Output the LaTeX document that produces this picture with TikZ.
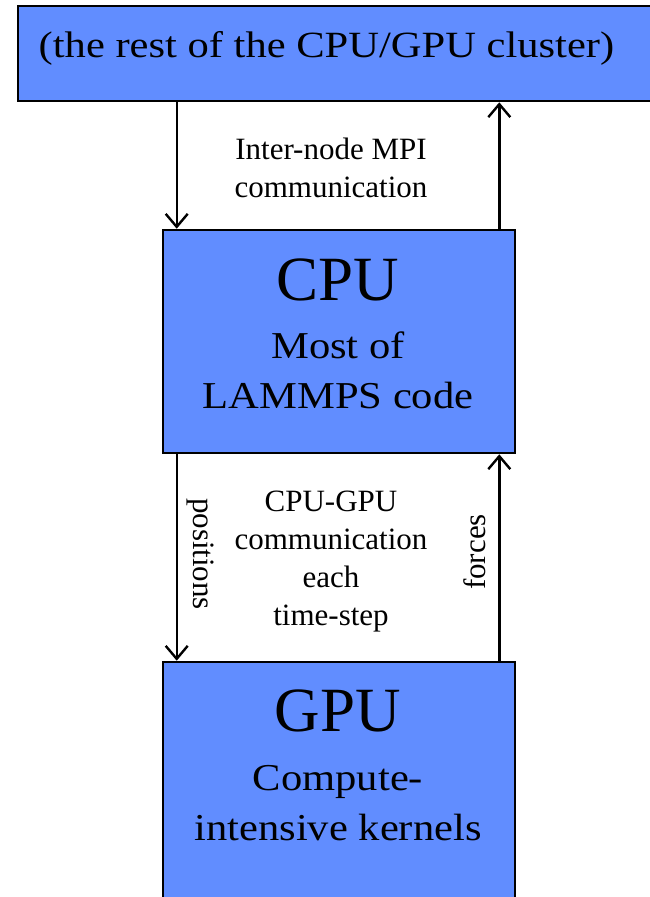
\documentclass[tikz,border=0pt]{standalone}
\usepackage{fontspec}
\setmainfont{Liberation Serif}
\newfontfamily\widefont[FakeStretch=1.12]{Liberation Serif}
\newfontfamily\widerfont[FakeStretch=1.15]{Liberation Serif}
\usetikzlibrary{arrows.meta}
\definecolor{boxblue}{RGB}{97,141,255}

\begin{document}
\begin{tikzpicture}[x=1pt,y=-1pt,
    >={Straight Barb[length=13pt,width=22pt]},
    box/.style={draw,line width=2.6pt,fill=boxblue,inner sep=0pt},
    title/.style={font=\fontsize{63}{63}\selectfont,anchor=base,inner sep=0pt},
    bodytext/.style={font=\widefont\fontsize{38}{50}\selectfont,align=center,anchor=base,inner sep=0pt},
    note/.style={font=\fontsize{31}{38}\selectfont,align=center,anchor=base,inner sep=0pt},
    flow/.style={->,line width=2.4pt}]
  \useasboundingbox (0,0) rectangle (650,897);
  \clip (0,0) rectangle (650,897);

  % boxes
  \node[box,minimum width=662pt,minimum height=95pt] (cluster) at (349,53.5) {};
  \node[box,minimum width=352pt,minimum height=223pt] (cpu) at (339,341.5) {};
  \node[box,minimum width=352pt,minimum height=300pt] (gpu) at (339,812) {};

  % texts in the boxes (base = last line)
  \node[bodytext,font=\widerfont\fontsize{37}{37}\selectfont] (clustertext) at (326.5,57) {(the rest of the CPU/GPU cluster)};
  \node[title] (cpuname) at (338,300) {CPU};
  \node[bodytext] (cputext) at (338,408) {Most of\\LAMMPS code};
  \node[title] (gpuname) at (338,731) {GPU};
  \node[bodytext] (gputext) at (338,840) {Compute-\\intensive kernels};

  % connectors
  \coordinate (mpidown) at ([xshift=15pt]cpu.north west);
  \coordinate (mpiup) at ([xshift=-17pt]cpu.north east);
  \draw[flow] (mpidown |- cluster.south) -- (mpidown);
  \draw[flow] (mpiup) -- (mpiup |- cluster.south);
  \coordinate (posdown) at ([xshift=15pt]gpu.north west);
  \coordinate (forceup) at ([xshift=-17pt]gpu.north east);
  \draw[flow] (posdown |- cpu.south) -- (posdown);
  \draw[flow] (forceup) -- (forceup |- cpu.south);

  % labels between the boxes
  \node[note] (mpitext) at (331,197) {Inter-node MPI\\communication};
  \node[note] (steptext) at (331,625) {CPU-GPU\\communication\\each\\time-step};
  \node[font=\fontsize{31}{31}\selectfont,rotate=-90,inner sep=0pt] (poslabel) at (200,554) {positions};
  \node[font=\fontsize{31}{31}\selectfont,rotate=90,inner sep=0pt] (forcelabel) at (475,552) {forces};
\end{tikzpicture}
\end{document}
